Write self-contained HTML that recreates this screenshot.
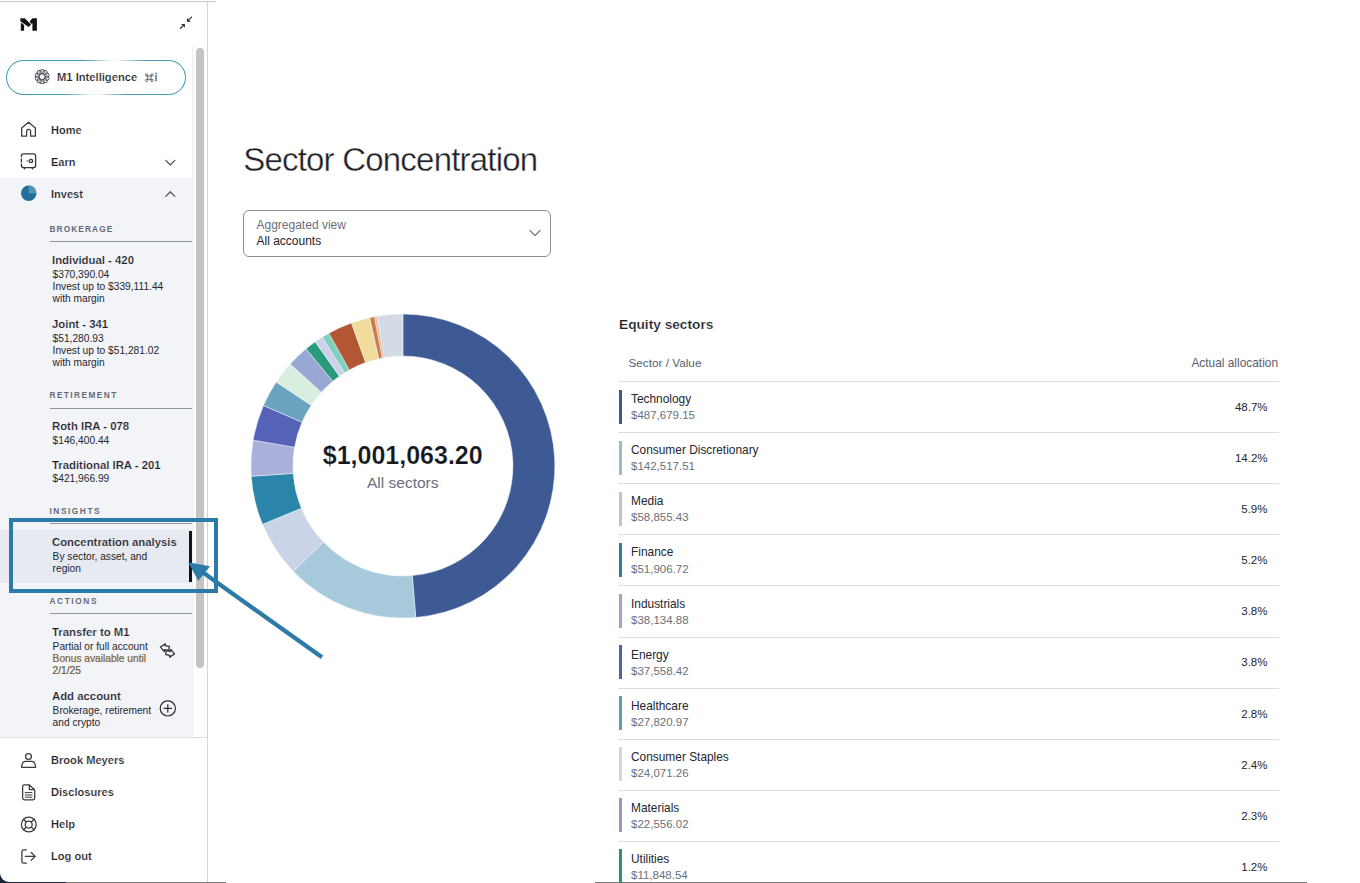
<!DOCTYPE html>
<html><head><meta charset="utf-8"><style>
html,body{margin:0;padding:0;width:1360px;height:883px;overflow:hidden;background:#fff;}
body{position:relative;font-family:'Liberation Sans', sans-serif;}
.t{position:absolute;white-space:nowrap;line-height:0;}
.r{position:absolute;}
svg{position:absolute;left:0;top:0;}
</style></head><body>
<div class="r" style="left:0px;top:871px;width:66px;height:12px;background:#17233b;"></div>
<div class="r" style="left:0px;top:0px;width:207px;height:882px;background:#ffffff;border-bottom-left-radius:9px;"></div>
<div class="r" style="left:0px;top:1px;width:216px;height:1px;background:#c9c9c9;"></div>
<div class="r" style="left:0px;top:178px;width:192px;height:559px;background:#f2f4f8;"></div>
<div class="r" style="left:0px;top:530px;width:192px;height:53px;background:#e7eaf1;"></div>
<div class="r" style="left:192px;top:46px;width:15px;height:691px;background:#fdfdfd;border-left:1px solid #efefef;box-sizing:border-box;"></div>
<div class="r" style="left:196px;top:48px;width:8px;height:620px;background:#c3c4c3;border-radius:4px;"></div>
<div class="r" style="left:0px;top:737px;width:207px;height:1px;background:#dde2e8;"></div>
<div class="r" style="left:207px;top:1px;width:1px;height:882px;background:#d2d7dc;"></div>
<div class="r" style="left:66px;top:882px;width:160px;height:1px;background:#7b7b7b;"></div>
<div class="r" style="left:0px;top:882px;width:66px;height:1px;background:#17233b;"></div>
<div class="r" style="left:595px;top:882px;width:712px;height:1px;background:#7b7b7b;"></div>
<div class="r" style="left:6px;top:60px;width:180px;height:35px;border-radius:18px;border:1.6px solid transparent;box-sizing:border-box;background:linear-gradient(#fff,#fff) padding-box, linear-gradient(120deg,#3f9fb8 0%,#3a94ad 38%,#e8f2f2 52%,#f4f8f8 56%,#4a9aae 70%,#3f9fb8 100%) border-box;"></div>
<div class="t" style="left:57px;top:76.92px;font-size:11.2px;font-weight:700;color:#1c1f25;-webkit-text-stroke:0.2px #fff;">M1 Intelligence</div>
<div class="t" style="left:154.8px;top:76.99px;font-size:11px;font-weight:400;color:#555a63;-webkit-text-stroke:0.3px #555a63;">i</div>
<div class="t" style="left:51px;top:130.19px;font-size:11px;font-weight:700;color:#1d2129;-webkit-text-stroke:0.2px #fff;">Home</div>
<div class="t" style="left:51px;top:162.19px;font-size:11px;font-weight:700;color:#1d2129;-webkit-text-stroke:0.2px #fff;">Earn</div>
<div class="t" style="left:51px;top:194.19px;font-size:11px;font-weight:700;color:#1d2129;-webkit-text-stroke:0.2px #f2f4f8;">Invest</div>
<div class="t" style="left:49.5px;top:229.12px;font-size:8.3px;font-weight:700;color:#646b78;letter-spacing:1.1px;">BROKERAGE</div>
<div class="r" style="left:50px;top:241px;width:142px;height:1px;background:#8e96a6;"></div>
<div class="t" style="left:49.5px;top:395.12px;font-size:8.3px;font-weight:700;color:#646b78;letter-spacing:1.42px;">RETIREMENT</div>
<div class="r" style="left:50px;top:408px;width:142px;height:1px;background:#8e96a6;"></div>
<div class="t" style="left:49.5px;top:511.12px;font-size:8.3px;font-weight:700;color:#646b78;letter-spacing:1.55px;">INSIGHTS</div>
<div class="r" style="left:50px;top:523px;width:142px;height:1px;background:#8e96a6;"></div>
<div class="t" style="left:49.5px;top:601.12px;font-size:8.3px;font-weight:700;color:#646b78;letter-spacing:1.6px;">ACTIONS</div>
<div class="r" style="left:50px;top:613px;width:142px;height:1px;background:#8e96a6;"></div>
<div class="t" style="left:52px;top:260.06px;font-size:11.35px;font-weight:700;color:#1d2129;-webkit-text-stroke:0.2px #f2f4f8;">Individual - 420</div>
<div class="t" style="left:52.6px;top:274.96px;font-size:10.2px;font-weight:400;color:#23272e;">$370,390.04</div>
<div class="t" style="left:52.6px;top:287.16px;font-size:10.2px;font-weight:400;color:#23272e;">Invest up to $339,111.44</div>
<div class="t" style="left:52.6px;top:299.36px;font-size:10.2px;font-weight:400;color:#23272e;">with margin</div>
<div class="t" style="left:52px;top:324.06px;font-size:11.35px;font-weight:700;color:#1d2129;-webkit-text-stroke:0.2px #f2f4f8;">Joint - 341</div>
<div class="t" style="left:52.6px;top:338.96px;font-size:10.2px;font-weight:400;color:#23272e;">$51,280.93</div>
<div class="t" style="left:52.6px;top:351.16px;font-size:10.2px;font-weight:400;color:#23272e;">Invest up to $51,281.02</div>
<div class="t" style="left:52.6px;top:363.36px;font-size:10.2px;font-weight:400;color:#23272e;">with margin</div>
<div class="t" style="left:52px;top:426.06px;font-size:11.35px;font-weight:700;color:#1d2129;-webkit-text-stroke:0.2px #f2f4f8;">Roth IRA - 078</div>
<div class="t" style="left:52.6px;top:440.96px;font-size:10.2px;font-weight:400;color:#23272e;">$146,400.44</div>
<div class="t" style="left:52px;top:464.56px;font-size:11.35px;font-weight:700;color:#1d2129;-webkit-text-stroke:0.2px #f2f4f8;">Traditional IRA - 201</div>
<div class="t" style="left:52.6px;top:479.46px;font-size:10.2px;font-weight:400;color:#23272e;">$421,966.99</div>
<div class="t" style="left:52px;top:542.06px;font-size:11.35px;font-weight:700;color:#1d2129;-webkit-text-stroke:0.2px #e7eaf1;">Concentration analysis</div>
<div class="t" style="left:52.6px;top:556.96px;font-size:10.2px;font-weight:400;color:#23272e;">By sector, asset, and</div>
<div class="t" style="left:52.6px;top:569.16px;font-size:10.2px;font-weight:400;color:#23272e;">region</div>
<div class="t" style="left:52px;top:632.06px;font-size:11.35px;font-weight:700;color:#1d2129;-webkit-text-stroke:0.2px #f2f4f8;">Transfer to M1</div>
<div class="t" style="left:52.6px;top:646.96px;font-size:10.2px;font-weight:400;color:#23272e;">Partial or full account</div>
<div class="t" style="left:52.6px;top:659.16px;font-size:10.2px;font-weight:400;color:#7a6238;-webkit-text-stroke:0.2px #7a6238;">Bonus available until</div>
<div class="t" style="left:52.6px;top:671.36px;font-size:10.2px;font-weight:400;color:#6a5a40;-webkit-text-stroke:0.2px #6a5a40;">2/1/25</div>
<div class="t" style="left:52px;top:696.06px;font-size:11.35px;font-weight:700;color:#1d2129;-webkit-text-stroke:0.2px #f2f4f8;">Add account</div>
<div class="t" style="left:52.6px;top:710.96px;font-size:10.2px;font-weight:400;color:#23272e;">Brokerage, retirement</div>
<div class="t" style="left:52.6px;top:723.16px;font-size:10.2px;font-weight:400;color:#23272e;">and crypto</div>
<div class="r" style="left:189px;top:531px;width:3px;height:51px;background:#111318;"></div>
<div class="t" style="left:51px;top:760.15px;font-size:11.1px;font-weight:700;color:#1d2129;-webkit-text-stroke:0.2px #fff;">Brook Meyers</div>
<div class="t" style="left:51px;top:792.15px;font-size:11.1px;font-weight:700;color:#1d2129;-webkit-text-stroke:0.2px #fff;">Disclosures</div>
<div class="t" style="left:51px;top:824.15px;font-size:11.1px;font-weight:700;color:#1d2129;-webkit-text-stroke:0.2px #fff;">Help</div>
<div class="t" style="left:51px;top:856.15px;font-size:11.1px;font-weight:700;color:#1d2129;-webkit-text-stroke:0.2px #fff;">Log out</div>
<div class="t" style="left:243.2px;top:159.56px;font-size:33px;font-weight:400;color:#1f2227;letter-spacing:-0.79px;-webkit-text-stroke:0.35px #fff;">Sector Concentration</div>
<div class="r" style="left:243px;top:210px;width:308px;height:47px;border:1px solid #8b9097;border-radius:6px;box-sizing:border-box;background:#fff"></div>
<div class="t" style="left:256.5px;top:224.84px;font-size:12px;font-weight:400;color:#6a707a;">Aggregated view</div>
<div class="t" style="left:256.5px;top:240.84px;font-size:12px;font-weight:400;color:#1d2129;">All accounts</div>
<div class="t" style="left:322.8px;top:455.33px;font-size:25px;font-weight:700;color:#15181d;-webkit-text-stroke:0.2px #fff;">$1,001,063.20</div>
<div class="t" style="left:367px;top:482.63px;font-size:15.5px;font-weight:400;color:#6a707a;">All sectors</div>
<div class="t" style="left:619px;top:325.05px;font-size:13.7px;font-weight:700;color:#1a1d22;-webkit-text-stroke:0.2px #fff;">Equity sectors</div>
<div class="t" style="left:628.5px;top:362.93px;font-size:11.75px;font-weight:400;color:#5a606b;">Sector / Value</div>
<div class="t" style="right:82px;text-align:right;top:362.87px;font-size:11.9px;font-weight:400;color:#5a606b;">Actual allocation</div>
<div class="r" style="left:618px;top:381px;width:661px;height:1px;background:#d9dde2;"></div>
<div class="t" style="left:631px;top:399.17px;font-size:11.9px;font-weight:400;color:#23272e;">Technology</div>
<div class="t" style="left:631px;top:415.21px;font-size:11.5px;font-weight:400;color:#6a707a;">$487,679.15</div>
<div class="t" style="right:92.5px;text-align:right;top:406.91px;font-size:11.5px;font-weight:400;color:#23272e;">48.7%</div>
<div class="r" style="left:619px;top:390px;width:3px;height:34px;background:#3e588c;"></div>
<div class="r" style="left:618px;top:432px;width:661px;height:1px;background:#d9dde2;"></div>
<div class="t" style="left:631px;top:450.27px;font-size:11.9px;font-weight:400;color:#23272e;">Consumer Discretionary</div>
<div class="t" style="left:631px;top:466.31px;font-size:11.5px;font-weight:400;color:#6a707a;">$142,517.51</div>
<div class="t" style="right:92.5px;text-align:right;top:458.01px;font-size:11.5px;font-weight:400;color:#23272e;">14.2%</div>
<div class="r" style="left:619px;top:441px;width:3px;height:34px;background:#9abbcb;"></div>
<div class="r" style="left:618px;top:483px;width:661px;height:1px;background:#d9dde2;"></div>
<div class="t" style="left:631px;top:501.37px;font-size:11.9px;font-weight:400;color:#23272e;">Media</div>
<div class="t" style="left:631px;top:517.41px;font-size:11.5px;font-weight:400;color:#6a707a;">$58,855.43</div>
<div class="t" style="right:92.5px;text-align:right;top:509.11px;font-size:11.5px;font-weight:400;color:#23272e;">5.9%</div>
<div class="r" style="left:619px;top:492px;width:3px;height:34px;background:#b9c4d6;"></div>
<div class="r" style="left:618px;top:534px;width:661px;height:1px;background:#d9dde2;"></div>
<div class="t" style="left:631px;top:552.47px;font-size:11.9px;font-weight:400;color:#23272e;">Finance</div>
<div class="t" style="left:631px;top:568.51px;font-size:11.5px;font-weight:400;color:#6a707a;">$51,906.72</div>
<div class="t" style="right:92.5px;text-align:right;top:560.21px;font-size:11.5px;font-weight:400;color:#23272e;">5.2%</div>
<div class="r" style="left:619px;top:543px;width:3px;height:34px;background:#2e7d9f;"></div>
<div class="r" style="left:618px;top:585px;width:661px;height:1px;background:#d9dde2;"></div>
<div class="t" style="left:631px;top:603.57px;font-size:11.9px;font-weight:400;color:#23272e;">Industrials</div>
<div class="t" style="left:631px;top:619.61px;font-size:11.5px;font-weight:400;color:#6a707a;">$38,134.88</div>
<div class="t" style="right:92.5px;text-align:right;top:611.31px;font-size:11.5px;font-weight:400;color:#23272e;">3.8%</div>
<div class="r" style="left:619px;top:594px;width:3px;height:34px;background:#9da5ca;"></div>
<div class="r" style="left:618px;top:637px;width:661px;height:1px;background:#d9dde2;"></div>
<div class="t" style="left:631px;top:654.67px;font-size:11.9px;font-weight:400;color:#23272e;">Energy</div>
<div class="t" style="left:631px;top:670.71px;font-size:11.5px;font-weight:400;color:#6a707a;">$37,558.42</div>
<div class="t" style="right:92.5px;text-align:right;top:662.41px;font-size:11.5px;font-weight:400;color:#23272e;">3.8%</div>
<div class="r" style="left:619px;top:645px;width:3px;height:34px;background:#535fac;"></div>
<div class="r" style="left:618px;top:688px;width:661px;height:1px;background:#d9dde2;"></div>
<div class="t" style="left:631px;top:705.77px;font-size:11.9px;font-weight:400;color:#23272e;">Healthcare</div>
<div class="t" style="left:631px;top:721.81px;font-size:11.5px;font-weight:400;color:#6a707a;">$27,820.97</div>
<div class="t" style="right:92.5px;text-align:right;top:713.51px;font-size:11.5px;font-weight:400;color:#23272e;">2.8%</div>
<div class="r" style="left:619px;top:696px;width:3px;height:34px;background:#669ab3;"></div>
<div class="r" style="left:618px;top:739px;width:661px;height:1px;background:#d9dde2;"></div>
<div class="t" style="left:631px;top:756.87px;font-size:11.9px;font-weight:400;color:#23272e;">Consumer Staples</div>
<div class="t" style="left:631px;top:772.91px;font-size:11.5px;font-weight:400;color:#6a707a;">$24,071.26</div>
<div class="t" style="right:92.5px;text-align:right;top:764.61px;font-size:11.5px;font-weight:400;color:#23272e;">2.4%</div>
<div class="r" style="left:619px;top:747px;width:3px;height:34px;background:#c7dbcf;"></div>
<div class="r" style="left:618px;top:790px;width:661px;height:1px;background:#d9dde2;"></div>
<div class="t" style="left:631px;top:807.97px;font-size:11.9px;font-weight:400;color:#23272e;">Materials</div>
<div class="t" style="left:631px;top:824.01px;font-size:11.5px;font-weight:400;color:#6a707a;">$22,556.02</div>
<div class="t" style="right:92.5px;text-align:right;top:815.71px;font-size:11.5px;font-weight:400;color:#23272e;">2.3%</div>
<div class="r" style="left:619px;top:798px;width:3px;height:34px;background:#8e9cc4;"></div>
<div class="r" style="left:618px;top:841px;width:661px;height:1px;background:#d9dde2;"></div>
<div class="t" style="left:631px;top:859.07px;font-size:11.9px;font-weight:400;color:#23272e;">Utilities</div>
<div class="t" style="left:631px;top:875.11px;font-size:11.5px;font-weight:400;color:#6a707a;">$11,848.54</div>
<div class="t" style="right:92.5px;text-align:right;top:866.81px;font-size:11.5px;font-weight:400;color:#23272e;">1.2%</div>
<div class="r" style="left:619px;top:849px;width:3px;height:34px;background:#2d9178;"></div>
<svg width="1360" height="883" viewBox="0 0 1360 883">
<g fill="#121419"><path d="M20.3 18.2 L24.7 18.2 L31.1 24.6 L28.6 27.1 L20.4 21.3 Z"/><path d="M20.8 22.6 L24.1 24.9 L24.1 30.8 L20.8 30.8 Z"/><path d="M32.4 18.2 L36.9 18.2 L36.9 30.8 L32.4 30.8 L32.4 23.2 L31.2 24 L29.7 21.5 Z"/></g>
<g stroke="#2a2d33" stroke-width="1.15" fill="none" stroke-linecap="round" stroke-linejoin="round"><path d="M191.6 17.2 L187.9 20.9"/><path d="M187.6 18.9 L187.6 21.2 L189.9 21.2" fill="#2a2d33"/><path d="M180.3 28.5 L184.0 24.8"/><path d="M182.0 24.5 L184.3 24.5 L184.3 26.8" fill="#2a2d33"/></g>
<g stroke="#3a3d44" stroke-width="0.85" fill="none"><circle cx="42.10" cy="71.80" r="2.3"/><circle cx="44.98" cy="72.74" r="2.3"/><circle cx="46.76" cy="75.19" r="2.3"/><circle cx="46.76" cy="78.21" r="2.3"/><circle cx="44.98" cy="80.66" r="2.3"/><circle cx="42.10" cy="81.60" r="2.3"/><circle cx="39.22" cy="80.66" r="2.3"/><circle cx="37.44" cy="78.21" r="2.3"/><circle cx="37.44" cy="75.19" r="2.3"/><circle cx="39.22" cy="72.74" r="2.3"/></g>
<g stroke="#60656e" stroke-width="1.7" fill="none" transform="translate(144.8,73.2) scale(0.56)"><path d="M5 3 L5 13 M11 3 L11 13 M3 5 L13 5 M3 11 L13 11"/><circle cx="3" cy="3" r="2"/><circle cx="13" cy="3" r="2"/><circle cx="3" cy="13" r="2"/><circle cx="13" cy="13" r="2"/></g>
<path d="M21.7 136.2 L21.7 127.9 L28.5 122.3 L35.4 127.9 L35.4 136.2 L30.6 136.2 L30.6 131.4 A2 2 0 0 0 26.6 131.4 L26.6 136.2 Z" fill="none" stroke="#3a3d42" stroke-width="1.3" stroke-linejoin="round"/>
<g fill="none" stroke="#33363c" stroke-width="1.3"><path d="M21.4 157.2 L21.4 155.9 Q21.4 153.9 23.4 153.9 L33.6 153.9 Q35.6 153.9 35.6 155.9 L35.6 165.6 Q35.6 167.6 33.6 167.6 L23.4 167.6 Q21.4 167.6 21.4 165.6 L21.4 163.6 M21.4 158.4 L21.4 162.4"/><circle cx="31" cy="161" r="1.6"/><path d="M26.3 161 L29.3 161" stroke="#888"/><path d="M24.5 167.8 L24.5 168.8 M32.5 167.8 L32.5 168.8" stroke-linecap="round" stroke-width="1.6"/></g>
<circle cx="28.7" cy="193.3" r="7.7" fill="#236f9b"/><path d="M28.7 193.3 L28.7 185.6 A7.7 7.7 0 0 1 36.4 193.3 Z" fill="#5293b6"/>
<g fill="none" stroke="#555a60" stroke-width="1.3" stroke-linecap="round" stroke-linejoin="round"><path d="M165.8 160.4 L170.3 165 L174.8 160.4"/><path d="M165.8 196.4 L170.3 191.8 L174.8 196.4"/></g>
<g fill="none" stroke="#2a2d33" stroke-width="1.25" stroke-linejoin="round" transform="translate(167.5,650.5) rotate(8)"><path d="M-3 -6.4 L-7.4 -2.4 L-3 1.6 L-3 -0.4 L1.2 -0.4 L1.2 -4.4 L-3 -4.4 Z"/><path d="M3 -1.6 L7.4 2.4 L3 6.4 L3 4.4 L-1.2 4.4 L-1.2 0.4 L3 0.4 Z"/></g>
<g fill="none" stroke="#2a2d33" stroke-width="1.2"><circle cx="167.8" cy="708.4" r="7.6"/><path d="M163.6 708.4 L172 708.4 M167.8 704.2 L167.8 712.6"/></g>
<g fill="none" stroke="#3a3d42" stroke-width="1.3" stroke-linejoin="round" stroke-linecap="round"><circle cx="28.5" cy="756.5" r="2.9"/><path d="M21.6 767.4 Q21.9 761.3 25.6 761.3 L31.6 761.3 Q35.3 761.3 35.6 767.4 Z"/><path d="M28.8 784.8 L24.4 784.8 Q22.6 784.8 22.6 786.6 L22.6 798.1 Q22.6 799.9 24.4 799.9 L32.9 799.9 Q34.7 799.9 34.7 798.1 L34.7 790.4"/><path d="M29.4 785 L34.4 789.6 L29.4 789.6 Z"/><path d="M25.3 792.6 L32 792.6 M25.3 795 L32 795 M25.3 797.2 L32 797.2" stroke-width="1"/><circle cx="28.8" cy="824.5" r="7.4"/><circle cx="28.7" cy="824.6" r="3.5"/><path d="M23.5 819.3 L26.2 822 M34.1 819.3 L31.3 822 M23.5 829.8 L26.2 827.1 M34.1 829.8 L31.3 827.1"/><path d="M26.4 849.8 L23.6 849.8 Q21.9 849.8 21.9 851.5 L21.9 861.5 Q21.9 863.2 23.6 863.2 L26.4 863.2"/><path d="M25.3 856.4 L35.2 856.4 M31.2 852.5 L35.2 856.4 L31.2 860.4"/></g>
<path d="M529.9 230.4 L535 235.6 L540.1 230.4" fill="none" stroke="#6a6f77" stroke-width="1.2" stroke-linecap="round" stroke-linejoin="round"/>
<g stroke="#eef4fa" stroke-width="0.5"><path d="M402.90 314.00 A152.0 152.0 0 0 1 415.76 617.45 L412.21 575.61 A110.0 110.0 0 0 0 402.90 356.00 Z" fill="#3d5a94"/><path d="M415.76 617.45 A152.0 152.0 0 0 1 293.17 571.18 L323.49 542.12 A110.0 110.0 0 0 0 412.21 575.61 Z" fill="#a6cadb"/><path d="M293.17 571.18 A152.0 152.0 0 0 1 262.54 524.33 L301.32 508.21 A110.0 110.0 0 0 0 323.49 542.12 Z" fill="#c9d4e8"/><path d="M262.54 524.33 A152.0 152.0 0 0 1 251.25 476.25 L293.15 473.42 A110.0 110.0 0 0 0 301.32 508.21 Z" fill="#2b84a9"/><path d="M251.25 476.25 A152.0 152.0 0 0 1 253.12 440.13 L294.51 447.28 A110.0 110.0 0 0 0 293.15 473.42 Z" fill="#a9b1da"/><path d="M253.12 440.13 A152.0 152.0 0 0 1 263.47 405.47 L302.00 422.20 A110.0 110.0 0 0 0 294.51 447.28 Z" fill="#5562b8"/><path d="M263.47 405.47 A152.0 152.0 0 0 1 276.20 382.02 L311.21 405.23 A110.0 110.0 0 0 0 302.00 422.20 Z" fill="#6aa5c0"/><path d="M276.20 382.02 A152.0 152.0 0 0 1 290.24 363.96 L321.37 392.16 A110.0 110.0 0 0 0 311.21 405.23 Z" fill="#d9efe0"/><path d="M290.24 363.96 A152.0 152.0 0 0 1 306.09 348.82 L332.84 381.20 A110.0 110.0 0 0 0 321.37 392.16 Z" fill="#98a7d3"/><path d="M306.09 348.82 A152.0 152.0 0 0 1 315.19 341.86 L339.42 376.16 A110.0 110.0 0 0 0 332.84 381.20 Z" fill="#2a9a7d"/><path d="M315.19 341.86 A152.0 152.0 0 0 1 322.33 337.11 L344.60 372.72 A110.0 110.0 0 0 0 339.42 376.16 Z" fill="#cdd2ea"/><path d="M322.33 337.11 A152.0 152.0 0 0 1 328.91 333.23 L349.35 369.91 A110.0 110.0 0 0 0 344.60 372.72 Z" fill="#80d0be"/><path d="M328.91 333.23 A152.0 152.0 0 0 1 351.46 322.97 L365.67 362.49 A110.0 110.0 0 0 0 349.35 369.91 Z" fill="#b25633"/><path d="M351.46 322.97 A152.0 152.0 0 0 1 369.77 317.65 L378.93 358.64 A110.0 110.0 0 0 0 365.67 362.49 Z" fill="#f2dc9b"/><path d="M369.77 317.65 A152.0 152.0 0 0 1 374.45 316.69 L382.31 357.94 A110.0 110.0 0 0 0 378.93 358.64 Z" fill="#c97b4c"/><path d="M374.45 316.69 A152.0 152.0 0 0 1 376.98 316.23 L384.14 357.61 A110.0 110.0 0 0 0 382.31 357.94 Z" fill="#f0b28a"/><path d="M376.98 316.23 A152.0 152.0 0 0 1 402.90 314.00 L402.90 356.00 A110.0 110.0 0 0 0 384.14 357.61 Z" fill="#d4dbe5"/></g>
<rect x="11" y="520" width="205" height="71" fill="none" stroke="#2b7aa8" stroke-width="4"/>
<line x1="322" y1="657.3" x2="203" y2="572.6" stroke="#2b7aa8" stroke-width="4.3"/>
<path d="M188.2 562.2 L210 566.3 L198.3 580.8 Z" fill="#2b7aa8"/>
</svg>
</body></html>
